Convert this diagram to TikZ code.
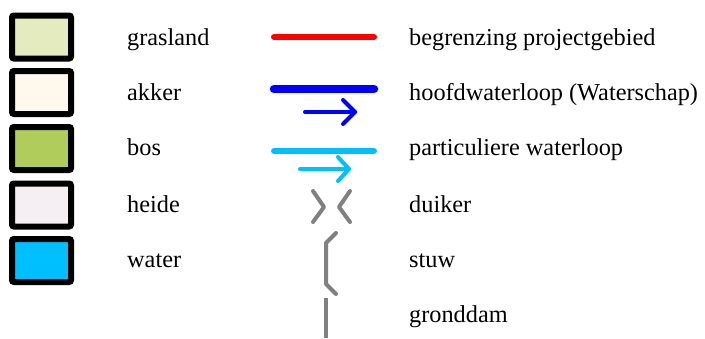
\documentclass[tikz,border=0pt]{standalone}
\usepackage{fontspec}
\setmainfont{Liberation Serif}
\usetikzlibrary{arrows.meta, positioning}

\definecolor{grasgroen}{RGB}{227,235,191}
\definecolor{akkergeel}{RGB}{255,248,236}
\definecolor{bosgroen}{RGB}{176,204,90}
\definecolor{heideroze}{RGB}{245,238,243}
\definecolor{waterblauw}{RGB}{0,191,255}
\definecolor{grensrood}{RGB}{255,0,0}
\definecolor{hoofdblauw}{RGB}{0,0,255}
\definecolor{grijs}{RGB}{128,128,128}

\begin{document}
\begin{tikzpicture}[
		x=1pt, y=-1pt,
		legendbox/.style={draw=black, line width=6pt, rounded corners=2pt, minimum width=59pt, minimum height=43pt, inner sep=0pt},
		label/.style={anchor=base west, inner sep=0pt, font=\fontsize{24.3}{28}\selectfont},
		symbol/.style={line cap=round, line join=round},
		kunstwerk/.style={symbol, draw=grijs, line width=4pt}
	]
		\useasboundingbox (0,0) rectangle (705,338);
	
		% Vlakken
		\node[legendbox, fill=grasgroen] (grasland) at (41.5,37) {};
		\node[legendbox, fill=akkergeel] (akker) at (41.5,92.5) {};
		\node[legendbox, fill=bosgroen] (bos) at (41.5,148.5) {};
		\node[legendbox, fill=heideroze] (heide) at (41.5,205) {};
		\node[legendbox, fill=waterblauw] (water) at (41.5,260.5) {};
		
		\node[label] (tgrasland) at (127,45) {grasland};
		\node[label] (takker) at (127,100) {akker};
		\node[label] (tbos) at (127,155.5) {bos};
		\node[label] (theide) at (127,212) {heide};
		\node[label] (twater) at (127,267.5) {water};
		
		% Lijnen
		\draw[symbol, grensrood, line width=6pt] (274,37) -- (374,37);
		\draw[symbol, hoofdblauw, line width=8.5pt] (274,89) -- (374,89);
		\draw[symbol, hoofdblauw, line width=4pt] (305,112) -- (355,112);
		\draw[symbol, hoofdblauw, line width=4pt] (343,100) -- (355,112) -- (343,124);
		\draw[symbol, waterblauw, line width=6pt] (274,151) -- (374,151);
		\draw[symbol, waterblauw, line width=4pt] (300,169) -- (349,169);
		\draw[symbol, waterblauw, line width=4pt] (338,157) -- (349,169) -- (338,181);
		
		% Kunstwerken
		\draw[kunstwerk] (313,191) -- (324,207) -- (313,222);
		\draw[kunstwerk] (350,191) -- (339,207) -- (350,222);
		\draw[kunstwerk] (336,233) -- (326,243) -- (326,284) -- (336,294);
		\draw[kunstwerk, line cap=butt] (326,298) -- (326,338);
		
		\node[label] (tgrens) at (409,45) {begrenzing projectgebied};
		\node[label] (thoofd) at (409,100) {hoofdwaterloop (Waterschap)};
		\node[label] (tpart) at (409,155.5) {particuliere waterloop};
		\node[label] (tduiker) at (409,212) {duiker};
		\node[label] (tstuw) at (409,267.5) {stuw};
		\node[label] (tdam) at (409,322) {gronddam};
		
	\end{tikzpicture}
\end{document}
